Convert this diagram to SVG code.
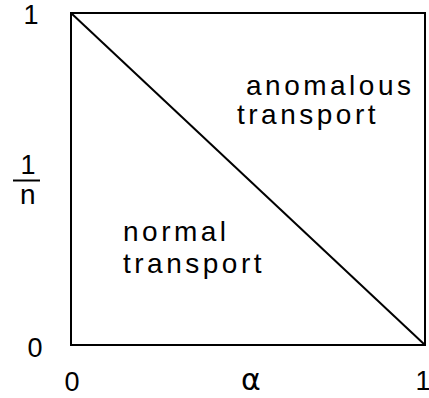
<svg xmlns="http://www.w3.org/2000/svg" width="429" height="398" viewBox="0 0 429 398">
<style>
.lbl{font-family:"Liberation Sans","DejaVu Sans",sans-serif;font-size:28px;letter-spacing:3.5px;fill:#000}
.num{font-family:"Liberation Sans","DejaVu Sans",sans-serif;font-size:27px;fill:#000;text-anchor:middle}
.ln{stroke:#000;fill:none;stroke-width:2}
</style>
<rect width="429" height="398" fill="#fff"/>
<g id="frame">
<rect class="ln" x="71" y="13" width="354" height="332"/>
</g>
<g id="connectors">
<line class="ln" x1="71" y1="13" x2="425" y2="345" stroke-width="1.8"/>
</g>
<g id="region-anomalous">
<text class="lbl" x="246" y="95" letter-spacing="1.5">anomalous</text>
<text class="lbl" x="237" y="124">transport</text>
</g>
<g id="region-normal">
<text class="lbl" x="123" y="241">normal</text>
<text class="lbl" x="123" y="273">transport</text>
</g>
<g id="y-axis">
<text class="num" x="28" y="174" font-size="24">1</text>
<line x1="13" y1="180.5" x2="40" y2="180.5" stroke="#000" stroke-width="2"/>
<text class="lbl" x="20" y="204" letter-spacing="0">n</text>
<text class="num" x="31" y="24">1</text>
<text class="num" x="35" y="357">0</text>
</g>
<g id="x-axis">
<text class="num" x="72" y="391">0</text>
<text x="251" y="390" font-family="DejaVu Sans,sans-serif" font-size="30" text-anchor="middle">α</text>
<text class="num" x="423" y="390">1</text>
</g>
</svg>
